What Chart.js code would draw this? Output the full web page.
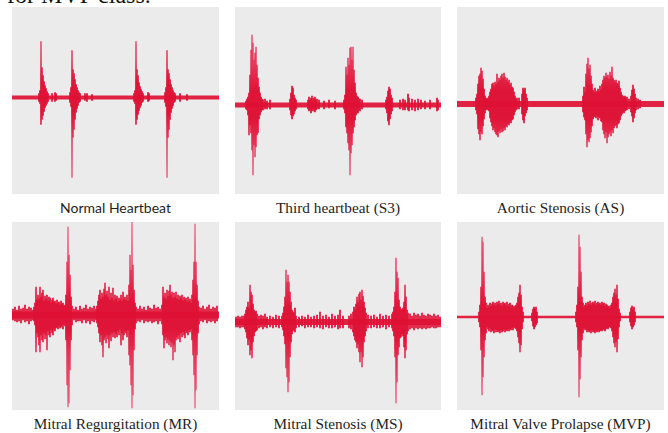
<!DOCTYPE html>
<html><head><meta charset="utf-8">
<script src="https://cdn.jsdelivr.net/npm/chart.js@4"></script>
<style>
html,body{margin:0;padding:0;background:#fff;width:668px;height:433px;overflow:hidden;position:relative}
.panel{position:absolute;background:#ebebeb}
.panel canvas{display:block}
.lab{position:absolute;text-align:center;white-space:nowrap;color:#1e1e1e}
.serif{font-family:"Liberation Serif","Times New Roman",serif;font-size:15.3px;line-height:15px}
.sans{font-family:Lato,"Open Sans",sans-serif;font-size:14px;line-height:14px}
#top{position:absolute;left:7px;top:-17px;font-family:"Liberation Serif",serif;font-size:24px;line-height:24px;color:#111;white-space:nowrap}
</style></head><body>
<div id="top">for MVP class.</div>
<script>
// ---- DATA: each entry is [time (px column), upper amplitude, lower amplitude] ----
const panelTitles = ["Normal Heartbeat","Third heartbeat (S3)","Aortic Stenosis (AS)","Mitral Regurgitation (MR)","Mitral Stenosis (MS)","Mitral Valve Prolapse (MVP)"];
const noiseLevel = [2, 2.5, 3, 3.5, 3, 1.2];
const timeSpan = [207, 206, 207, 207, 206, 207];

const normalSig = [
[27,4,-4],[28,7,-6],[29,56,-27],[30,30,-22],[31,22,-18],[32,16,-14],[33,12,-10],[34,9,-8],[35,6,-6],[36,4,-4],
[40,4,-4],[43,5,-4],[44,4,-3],
[58,5,-5],[59,10,-9],[60,47,-80],[61,28,-40],[62,24,-32],[63,18,-22],[64,13,-15],[65,10,-11],[66,7,-8],[67,5,-5],[68,4,-4],
[73,4,-3],[75,4,-4],[80,3,-3],
[122,4,-4],[123,7,-6],[124,56,-27],[125,28,-22],[126,22,-17],[127,15,-13],[128,11,-10],[129,8,-8],[130,6,-5],[131,4,-4],
[136,5,-4],[137,4,-3],
[153,5,-5],[154,10,-9],[155,47,-80],[156,28,-40],[157,24,-32],[158,18,-22],[159,13,-15],[160,10,-11],[161,7,-8],[162,5,-5],[163,4,-4],
[168,4,-4],[175,3,-3]
];

const s3Sig = [
[11,4,-4],[12,6,-5],[13,8,-10],[14,12,-30],[15,30,-20],[16,55,-28],[17,70,-45],[18,62,-70],[19,45,-40],[20,52,-52],[21,58,-42],[22,40,-30],[23,27,-28],[24,18,-14],[25,12,-10],[26,8,-7],[27,6,-5],[28,5,-5],[30,6,-4],[32,4,-4],[35,5,-4],
[55,6,-5],[56,12,-10],[57,19,-14],[58,17,-11],[59,10,-9],[60,7,-6],[61,5,-4],
[73,5,-4],[74,8,-6],[75,5,-5],[76,7,-8],[77,9,-6],[78,5,-4],[79,7,-6],[80,8,-7],[81,5,-5],[82,6,-4],[84,5,-4],
[89,4,-4],[94,5,-3],[100,4,-4],
[109,5,-4],[110,10,-8],[111,38,-22],[112,30,-28],[113,47,-38],[114,40,-45],[115,57,-70],[116,58,-48],[117,45,-40],[118,58,-28],[119,35,-22],[120,22,-15],[121,12,-10],[122,9,-8],[123,8,-8],[124,6,-5],[125,6,-6],[127,5,-4],
[151,5,-4],[152,8,-8],[153,14,-16],[154,18,-20],[155,16,-14],[156,10,-9],[157,7,-6],
[165,5,-4],[168,6,-5],[170,5,-5],[173,11,-5],[174,7,-6],[177,6,-5],[180,5,-6],[183,6,-5],[186,5,-4],[190,4,-4],[195,5,-4],[202,7,-6],[203,5,-5]
];

const asSig = [
[19,6,-6],[20,10,-10],[21,20,-25],[22,28,-30],[23,30,-36],[24,36,-28],[25,33,-30],[26,25,-22],[27,15,-15],[28,8,-9],[29,6,-6],
[30,5,-5],[31,6,-6],[32,8,-7],[33,12,-14],
[34,15,-18],[35,20,-22],[36,21,-26],[37,18,-24],[38,22,-28],[39,20,-30],[40,30,-31],[41,22,-33],[42,26,-27],[43,24,-29],[44,28,-25],[45,30,-28],[46,26,-27],[47,31,-24],[48,27,-26],[49,24,-22],[50,26,-23],[51,22,-20],[52,24,-21],[53,19,-18],[54,21,-19],[55,17,-16],[56,16,-15],[57,12,-11],[58,8,-8],
[59,5,-6],[60,6,-5],[62,6,-5],
[65,10,-10],[66,16,-16],[67,14,-19],[68,16,-12],[69,10,-9],[70,6,-6],
[126,8,-8],[127,17,-13],[128,12,-16],[129,30,-30],[130,40,-43],[131,46,-36],[132,35,-38],[133,39,-34],[134,28,-28],[135,20,-22],
[136,14,-15],[137,12,-13],[138,16,-12],[139,11,-14],[140,13,-12],[141,15,-16],[142,12,-13],[143,18,-14],[144,14,-17],[145,20,-18],
[146,24,-26],[147,28,-30],[148,26,-34],[149,31,-28],[150,27,-39],[151,29,-33],[152,25,-30],[153,32,-28],[154,28,-32],[155,37,-26],[156,26,-29],[157,24,-24],[158,22,-22],[159,24,-21],[160,21,-24],[161,20,-20],[162,23,-19],[163,16,-16],[164,12,-12],[165,9,-10],[166,8,-8],[167,7,-9],[168,8,-7],[169,6,-6],[170,7,-6],[172,5,-5],
[174,8,-8],[175,14,-12],[176,19,-18],[177,15,-14],[178,10,-9],[179,6,-6],[181,5,-5],[183,4,-4]
];

const mrSig = [
[1,6,-5],[3,8,-6],[5,5,-7],[7,9,-6],[9,6,-8],[11,7,-5],[13,10,-7],[15,6,-6],[17,8,-9],[19,7,-6],[21,5,-5],
[22,8,-6],[23,12,-10],[24,28,-37],[25,15,-18],[26,20,-22],[27,16,-30],[28,28,-37],[29,18,-20],[30,22,-25],[31,25,-27],[32,14,-18],[33,19,-24],[34,16,-20],[35,20,-35],[36,14,-16],[37,18,-20],[38,17,-22],[39,12,-15],[40,15,-18],[41,17,-20],[42,13,-14],[43,14,-16],[44,11,-13],[45,15,-12],[46,12,-14],[47,13,-11],[48,10,-13],[49,14,-12],[50,11,-10],[51,12,-14],[52,9,-9],[53,10,-11],
[54,20,-25],[55,53,-70],[56,88,-92],[57,60,-88],[58,40,-55],[59,18,-25],[60,9,-10],
[62,6,-5],[64,8,-7],[66,5,-6],[68,9,-6],[70,6,-8],[72,7,-5],[74,10,-8],[76,6,-6],[78,8,-9],[80,7,-6],[82,9,-7],[84,6,-5],
[85,9,-8],[86,14,-12],[87,20,-18],[88,25,-27],[89,16,-20],[90,22,-30],[91,18,-42],[92,26,-25],[93,32,-22],[94,20,-28],[95,24,-20],[96,18,-24],[97,28,-33],[98,15,-20],[99,22,-26],[100,17,-18],[101,27,-22],[102,14,-17],[103,20,-23],[104,16,-19],[105,19,-22],[106,13,-16],[107,17,-20],[108,15,-14],[109,20,-30],[110,14,-18],[111,23,-25],[112,16,-20],[113,18,-16],[114,15,-18],[115,20,-22],[116,14,-15],
[117,30,-40],[118,60,-50],[119,45,-70],[120,93,-93],[121,50,-80],[122,25,-35],[123,12,-14],[124,8,-8],
[126,6,-6],[128,9,-7],[130,6,-5],[132,8,-8],[134,5,-6],[136,9,-7],[138,7,-6],[140,6,-8],[142,10,-7],[144,7,-6],[146,8,-9],[148,6,-6],
[150,10,-9],[151,28,-20],[152,18,-33],[153,22,-25],[154,16,-22],[155,25,-28],[156,19,-24],[157,24,-30],[158,30,-26],[159,20,-32],[160,23,-28],[161,17,-45],[162,22,-30],[163,18,-37],[164,23,-25],[165,16,-22],[166,20,-24],[167,15,-20],[168,19,-27],[169,17,-18],[170,20,-22],[171,14,-17],[172,18,-20],[173,15,-23],[174,17,-16],[175,13,-18],[176,18,-20],[177,14,-15],[178,16,-17],[179,12,-14],
[180,20,-25],[181,35,-40],[182,53,-60],[183,91,-93],[184,53,-75],[185,30,-40],[186,14,-18],[187,8,-9],
[189,7,-6],[191,9,-7],[193,6,-5],[195,8,-8],[197,10,-6],[199,6,-7],[201,8,-6],[203,7,-8],[205,9,-6]
];

const msSig = [
[1,5,-5],[3,6,-5],[5,5,-6],[7,6,-5],
[9,6,-5],[10,8,-7],[11,12,-10],[12,15,-16],[13,20,-23],[14,14,-18],[15,37,-33],[16,30,-28],[17,27,-36],[18,18,-20],[19,12,-14],[20,10,-10],[21,11,-9],[22,8,-8],
[24,6,-6],[26,7,-5],[28,6,-7],[30,8,-5],[32,5,-6],[35,6,-5],[38,5,-6],[41,7,-5],[44,6,-6],
[47,6,-5],[48,9,-8],[49,15,-14],[50,25,-22],[51,52,-46],[52,40,-55],[53,47,-70],[54,40,-60],[55,30,-35],[56,20,-20],[57,12,-12],[58,10,-9],[59,9,-8],[60,14,-10],[61,6,-6],
[64,5,-5],[67,6,-4],[70,5,-6],[73,7,-5],[76,5,-5],[79,6,-6],[82,7,-5],[85,10,-6],[88,6,-7],[91,7,-5],[94,5,-6],[97,8,-6],[100,6,-5],[103,7,-7],[105,12,-6],[108,6,-6],
[114,6,-6],[116,8,-7],[118,10,-10],[119,15,-14],[120,12,-18],[121,18,-20],[122,25,-26],[123,20,-22],[124,28,-30],[125,30,-40],[126,22,-30],[127,32,-45],[128,26,-35],[129,20,-20],[130,14,-14],[131,9,-9],[133,7,-6],
[136,6,-6],[139,7,-5],[142,5,-6],[145,8,-6],[148,6,-5],[151,7,-7],[154,6,-5],[157,8,-6],
[158,10,-9],[159,15,-14],[160,30,-35],[161,64,-81],[162,50,-60],[163,44,-33],[164,22,-25],[165,15,-16],[166,13,-15],[167,12,-12],[168,14,-14],[169,20,-25],[170,37,-36],[171,25,-28],[172,12,-12],[173,9,-9],
[175,8,-7],[177,6,-6],[179,9,-8],[181,7,-6],[183,8,-7],[185,6,-6],[187,9,-7],[189,7,-6],[191,6,-7],[193,8,-6],[195,7,-6],[197,6,-5],[199,8,-6],[201,6,-6],[203,7,-5],[205,5,-5]
];

const mvpSig = [
[22,5,-5],[23,12,-10],[24,30,-33],[25,80,-78],[26,75,-60],[27,45,-40],[28,20,-23],[29,14,-16],
[30,9,-10],[31,12,-12],[32,10,-14],[33,14,-11],[34,11,-15],[35,13,-13],[36,15,-14],[37,12,-16],[38,14,-12],[39,11,-15],[40,15,-13],[41,13,-15],[42,16,-14],[43,12,-16],[44,14,-13],[45,11,-15],[46,15,-14],[47,13,-12],[48,14,-15],[49,12,-13],[50,15,-14],[51,11,-12],[52,13,-14],[53,14,-12],[54,10,-13],[55,12,-11],[56,11,-13],[57,9,-10],[58,11,-11],[59,12,-12],
[60,14,-14],[61,20,-20],[62,24,-26],[63,32,-35],[64,22,-28],[65,10,-12],[66,5,-5],
[75,4,-4],[76,8,-9],[77,10,-12],[78,8,-10],[79,10,-8],[80,5,-6],
[119,5,-5],[120,12,-10],[121,30,-33],[122,82,-80],[123,70,-62],[124,45,-40],[125,20,-23],[126,14,-16],
[127,10,-11],[128,12,-13],[129,14,-12],[130,11,-15],[131,15,-13],[132,13,-15],[133,16,-14],[134,12,-16],[135,14,-13],[136,15,-15],[137,13,-14],[138,16,-16],[139,12,-14],[140,14,-15],[141,15,-13],[142,13,-15],[143,14,-14],[144,12,-13],[145,15,-14],[146,13,-12],[147,14,-13],[148,11,-14],[149,13,-12],[150,12,-11],[151,10,-12],[152,11,-10],[153,9,-10],[154,12,-11],
[155,14,-14],[156,20,-20],[157,24,-26],[158,28,-30],[159,22,-25],[160,32,-35],[161,18,-22],[162,8,-10],[163,4,-4],
[173,5,-5],[174,9,-9],[175,11,-12],[176,8,-10],[177,10,-8],[178,5,-5]
];

const signals = [normalSig, s3Sig, asSig, mrSig, msSig, mvpSig];

// ---- LAYOUT (positions / styles) ----
const layout = [
  {x:12,  y:7,   w:207, h:187, base:97.5, labTop:201, font:'sans'},
  {x:235, y:7,   w:206, h:187, base:105,  labTop:200,   font:'serif'},
  {x:457, y:7,   w:207, h:187, base:104,  labTop:200,   font:'serif'},
  {x:12,  y:222, w:207, h:188, base:315,  labTop:415.5, font:'serif'},
  {x:235, y:222, w:206, h:188, base:322,  labTop:415.5, font:'serif'},
  {x:457, y:222, w:207, h:188, base:317,  labTop:415.5, font:'serif'}
];
const RED = 'rgba(223,16,52,0.92)';

function makeFill(chart, f) {
  const a = chart.chartArea;
  if (!a) return RED;
  if (chart.$wfFill) return chart.$wfFill;
  const h = a.bottom - a.top;
  const g = chart.ctx.createLinearGradient(0, a.top, 0, a.bottom);
  const clamp = v => Math.max(0, Math.min(1, v));
  g.addColorStop(0, 'rgba(232,60,95,0.55)');
  g.addColorStop(clamp(f - 40 / h), 'rgba(228,35,72,0.75)');
  g.addColorStop(clamp(f - 14 / h), 'rgba(222,16,52,0.92)');
  g.addColorStop(clamp(f + 14 / h), 'rgba(222,16,52,0.92)');
  g.addColorStop(clamp(f + 40 / h), 'rgba(228,35,72,0.75)');
  g.addColorStop(1, 'rgba(232,60,95,0.55)');
  chart.$wfFill = g;
  return g;
}

layout.forEach((L, i) => {
  const div = document.createElement('div');
  div.className = 'panel';
  div.style.left = L.x + 'px'; div.style.top = L.y + 'px';
  div.style.width = L.w + 'px'; div.style.height = L.h + 'px';
  const cv = document.createElement('canvas');
  cv.width = L.w; cv.height = L.h;
  cv.style.width = L.w + 'px'; cv.style.height = L.h + 'px';
  div.appendChild(cv);
  document.body.appendChild(div);

  const lab = document.createElement('div');
  lab.className = 'lab ' + L.font;
  lab.style.left = L.x + 'px'; lab.style.width = L.w + 'px';
  lab.style.top = L.labTop + 'px';
  lab.textContent = panelTitles[i];
  document.body.appendChild(lab);

  const above = L.base - L.y;
  const below = L.h - above;
  const n = noiseLevel[i];
  const frac = above / L.h;

  new Chart(cv, {
    type: 'bar',
    data: {
      datasets: [
        { type: 'line', order: 2, data: [{x:0, y:0}, {x:timeSpan[i], y:0}],
          borderColor: RED, borderWidth: n * 2, pointRadius: 0, borderCapStyle: 'butt', tension: 0 },
        { type: 'bar', order: 1, data: signals[i].map(s => ({x: s[0], y: [s[2], s[1]]})),
          backgroundColor: ctx => makeFill(ctx.chart, frac), borderWidth: 0, barThickness: 1.2 }
      ]
    },
    options: {
      responsive: false, animation: false, events: [],
      layout: { padding: 0 },
      plugins: { legend: { display: false }, tooltip: { enabled: false } },
      scales: {
        x: { type: 'linear', min: 0, max: timeSpan[i], offset: false, display: false },
        y: { min: -below, max: above, display: false }
      }
    }
  });
});
</script>
</body></html>
